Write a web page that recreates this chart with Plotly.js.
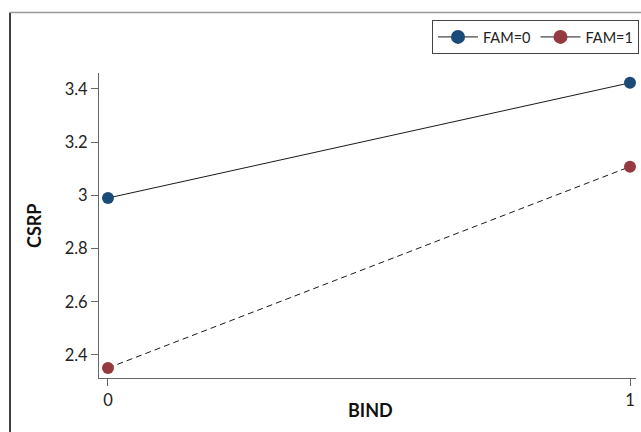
<!DOCTYPE html>
<html>
<head>
<meta charset="utf-8">
<script src="https://cdn.plot.ly/plotly-3.0.1.min.js"></script>
<style>html,body{margin:0;padding:0;background:#fff;}#chart{width:641px;height:432px;}</style>
</head>
<body>
<div id="chart"></div>
<script>
var bind = [0, 1];
var fam0 = [2.99, 3.423];
var fam1 = [2.351, 3.108];
var seriesNames = ["FAM=0", "FAM=1"];
var seriesColors = ["#1a4a78", "#953a40"];
var xTicks = [0, 1];
var yTicks = [2.4, 2.6, 2.8, 3, 3.2, 3.4];
var yTickText = ["2.4", "2.6", "2.8", "3", "3.2", "3.4"];

var W = 641, H = 432, ml = 99, mr = 5, mt = 73, mb = 54;
var pw = W - ml - mr, ph = H - mt - mb;
function px2x(p){ return (p - ml) / pw; }
function py2y(p){ return (H - mb - p) / ph; }

var traces = [
  {x: bind, y: fam0, name: seriesNames[0], mode: "lines+markers", type: "scatter", showlegend: false,
   line: {color: "#1a1a1a", width: 1}, marker: {color: seriesColors[0], size: 12}},
  {x: bind, y: fam1, name: seriesNames[1], mode: "lines+markers", type: "scatter", showlegend: false,
   line: {color: "#1a1a1a", width: 1, dash: "6px,4px"}, marker: {color: seriesColors[1], size: 12}},
  {x: [null], y: [null], name: seriesNames[0], mode: "lines+markers", type: "scatter",
   line: {color: "#1a1a1a", width: 1}, marker: {color: seriesColors[0], size: 14}},
  {x: [null], y: [null], name: seriesNames[1], mode: "lines+markers", type: "scatter",
   line: {color: "#1a1a1a", width: 1}, marker: {color: seriesColors[1], size: 14}}
];

var layout = {
  width: W, height: H,
  margin: {l: ml, r: mr, t: mt, b: mb, pad: 0, autoexpand: false},
  paper_bgcolor: "#fff", plot_bgcolor: "#fff",
  font: {family: "Lato, 'Open Sans', sans-serif", size: 16, color: "#222"},
  showlegend: true,
  legend: {orientation: "h", x: px2x(432), y: py2y(20), xanchor: "left", yanchor: "top",
    bordercolor: "#444", borderwidth: 1, bgcolor: "#fff",
    font: {size: 14.5, color: "#222"}, itemwidth: 40, tracegroupgap: 0},
  xaxis: {range: [-0.0172, 1.0115], tickvals: xTicks, ticktext: ["0", "1"], automargin: false,
    showgrid: false, zeroline: false, showline: true, linecolor: "#666", linewidth: 1,
    ticks: "outside", ticklen: 7, tickcolor: "#666", tickfont: {size: 16.5, color: "#222"}},
  yaxis: {range: [2.3135, 3.46], tickvals: yTicks, ticktext: yTickText, automargin: false,
    showgrid: false, zeroline: false, showline: true, linecolor: "#666", linewidth: 1,
    ticks: "outside", ticklen: 7, tickcolor: "#666", tickfont: {size: 16.5, color: "#222"}},
  annotations: [
    {text: "<b>BIND</b>", xref: "paper", yref: "paper", x: px2x(370), y: py2y(410),
     xanchor: "center", yanchor: "middle", showarrow: false, font: {size: 18, color: "#111"}},
    {text: "<b>CSRP</b>", xref: "paper", yref: "paper", x: px2x(33.5), y: py2y(225.5),
     xanchor: "center", yanchor: "middle", textangle: -90, showarrow: false, font: {size: 18, color: "#111"}}
  ],
  shapes: [
    {type: "line", xref: "paper", yref: "paper", x0: px2x(10), x1: px2x(10), y0: py2y(12.5), y1: py2y(440),
     line: {color: "#000", width: 1.5}},
    {type: "line", xref: "paper", yref: "paper", x0: px2x(10), x1: px2x(660), y0: py2y(12.5), y1: py2y(12.5),
     line: {color: "#999", width: 1.5}}
  ]
};

Plotly.newPlot("chart", traces, layout, {displayModeBar: false, staticPlot: true});
</script>
</body>
</html>
